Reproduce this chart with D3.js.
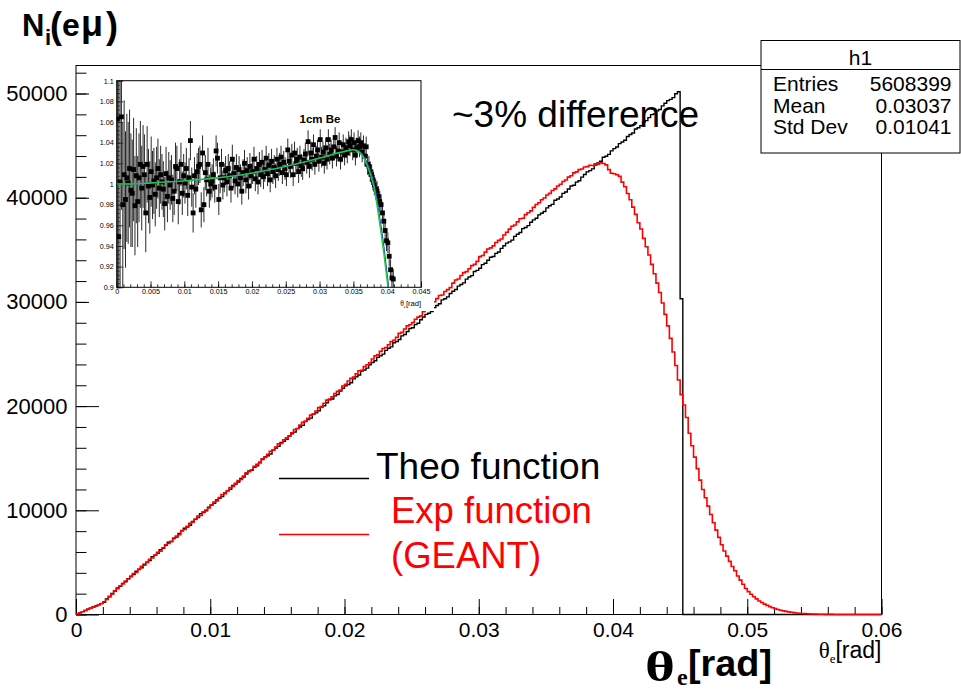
<!DOCTYPE html>
<html>
<head>
<meta charset="utf-8">
<script src="https://cdn.jsdelivr.net/npm/d3@7"></script>
<style>
body { margin: 0; background: #fff; }
svg { display: block; font-family: "Liberation Sans", Arial, Helvetica, sans-serif; }
</style>
</head>
<body>
<div id="chart"></div>
<script>
// histogram bins: 0.0002 rad wide, 300 bins from 0 to 0.06
var binWidth = 0.0002;

// Theo function (black)
var theo = [
  60, 160, 280, 380, 500, 600, 720, 820, 940, 1040,
  1180, 1490, 1700, 2010, 2230, 2540, 2700, 2990, 3150, 3440,
  3670, 3828, 4156, 4314, 4472, 4830, 5028, 5166, 5554, 5672,
  5870, 6218, 6356, 6644, 6932, 7000, 7298, 7426, 7774, 8032,
  8280, 8398, 8566, 8934, 9132, 9300, 9678, 9786, 9964, 10292,
  10510, 10668, 10996, 11154, 11312, 11670, 11868, 12006, 12394, 12512,
  12710, 13058, 13196, 13484, 13772, 13840, 14138, 14266, 14614, 14872,
  15120, 15238, 15406, 15774, 15972, 16140, 16518, 16626, 16804, 17132,
  17350, 17508, 17836, 17994, 18152, 18510, 18708, 18846, 19234, 19352,
  19550, 19898, 20036, 20324, 20612, 20680, 20978, 21106, 21454, 21712,
  21960, 22078, 22246, 22614, 22812, 22980, 23358, 23466, 23644, 23972,
  24190, 24348, 24676, 24834, 24992, 25350, 25548, 25686, 26074, 26192,
  26390, 26738, 26876, 27164, 27452, 27520, 27818, 27946, 28294, 28552,
  28800, 28918, 29086, 29454, 29652, 29820, 30198, 30306, 30484, 30812,
  31030, 31188, 31516, 31674, 31832, 32190, 32388, 32526, 32914, 33032,
  33230, 33578, 33716, 34004, 34292, 34360, 34658, 34786, 35134, 35392,
  35640, 35758, 35926, 36294, 36492, 36660, 37038, 37146, 37324, 37652,
  37870, 38028, 38356, 38514, 38672, 39030, 39228, 39366, 39754, 39872,
  40070, 40418, 40556, 40844, 41132, 41200, 41498, 41626, 41974, 42232,
  42480, 42598, 42766, 43134, 43332, 43500, 43878, 43986, 44164, 44492,
  44710, 44868, 45196, 45354, 45512, 45870, 46068, 46206, 46594, 46712,
  46910, 47258, 47396, 47684, 47972, 48040, 48338, 48466, 48814, 49072,
  49320, 49438, 49606, 49974, 50172, 30300, 0, 0, 0, 0,
  0, 0, 0, 0, 0, 0, 0, 0, 0, 0,
  0, 0, 0, 0, 0, 0, 0, 0, 0, 0,
  0, 0, 0, 0, 0, 0, 0, 0, 0, 0,
  0, 0, 0, 0, 0, 0, 0, 0, 0, 0,
  0, 0, 0, 0, 0, 0, 0, 0, 0, 0,
  0, 0, 0, 0, 0, 0, 0, 0, 0, 0,
  0, 0, 0, 0, 0, 0, 0, 0, 0, 0
];

// Exp function (GEANT), red
var geant = [
  50, 170, 270, 390, 490, 610, 710, 830, 930, 1060,
  1220, 1440, 1740, 1960, 2270, 2480, 2750, 2930, 3210, 3400,
  3620, 3928, 4026, 4354, 4632, 4730, 4998, 5306, 5424, 5712,
  5977, 6075, 6403, 6701, 6809, 7007, 7335, 7533, 7661, 8050,
  8158, 8466, 8744, 8862, 9160, 9458, 9506, 9854, 10032, 10220,
  10494, 10802, 10900, 11228, 11506, 11604, 11872, 12180, 12298, 12586,
  12865, 12963, 13291, 13589, 13697, 13895, 14223, 14421, 14549, 14937,
  15075, 15383, 15661, 15779, 16077, 16375, 16423, 16771, 16949, 17137,
  17445, 17753, 17851, 18179, 18457, 18555, 18823, 19131, 19249, 19537,
  19855, 19953, 20281, 20579, 20687, 20885, 21213, 21411, 21539, 21927,
  22095, 22403, 22681, 22799, 23097, 23395, 23443, 23791, 23969, 24157,
  24515, 24823, 24921, 25249, 25527, 25625, 25893, 26201, 26319, 26607,
  26980, 27078, 27406, 27704, 27812, 28010, 28338, 28536, 28664, 29052,
  29310, 29618, 29896, 30014, 30312, 30610, 30658, 31006, 31184, 31372,
  31800, 32108, 32206, 32534, 32812, 32910, 33178, 33486, 33604, 33892,
  34350, 34448, 34776, 35074, 35182, 35380, 35708, 35906, 36034, 36422,
  36680, 36988, 37266, 37384, 37682, 37980, 38028, 38376, 38554, 38742,
  39070, 39350, 39520, 39810, 39980, 40260, 40420, 40700, 40850, 41130,
  41290, 41560, 41700, 41980, 42110, 42380, 42480, 42700, 42760, 42950,
  42980, 43120, 43090, 43250, 43220, 43340, 43290, 43150, 42700, 42350,
  42300, 42200, 42050, 41500, 41050, 40400, 39800, 39100, 38400, 37600,
  37000, 36100, 35300, 34500, 33600, 32700, 31800, 30900, 29900, 28800,
  27700, 26500, 25200, 23900, 22500, 21100, 20100, 18900, 17400, 16200,
  15100, 14000, 12900, 12000, 11200, 10400, 9600, 8800, 8100, 7400,
  6700, 6100, 5600, 5100, 4600, 4200, 3700, 3300, 2900, 2500,
  2200, 1950, 1700, 1500, 1300, 1150, 1000, 880, 760, 650,
  560, 480, 410, 350, 300, 250, 210, 180, 150, 120,
  100, 80, 65, 55, 45, 35, 28, 22, 17, 13,
  10, 8, 6, 5, 4, 3, 2, 2, 1, 1,
  1, 1, 0, 0, 0, 0, 0, 0, 0, 0
];

// inset: ratio per bin (same 0.0002 binning), and its error in units of 0.001
var ratio = [
  1.063, 0.949, 1.002, 1.065, 0.980, 1.009, 0.985, 1.006, 1.001, 1.015,
  0.994, 0.991, 1.014, 0.979, 1.008, 0.983, 1.006, 1.019, 0.996, 1.017,
  1.009, 0.972, 1.019, 0.998, 0.987, 1.012, 0.999, 1.003, 0.990, 1.006,
  1.015, 0.996, 1.009, 1.002, 0.995, 0.981, 1.010, 0.988, 1.006, 0.999,
  1.004, 0.986, 0.993, 1.017, 1.015, 0.983, 1.002, 1.019, 0.991, 1.008,
  1.001, 1.015, 0.989, 1.006, 1.042, 0.997, 0.972, 1.008, 0.995, 1.012,
  1.017, 1.019, 0.975, 1.030, 0.980, 1.011, 1.004, 1.019, 0.993, 1.000,
  1.003, 1.009, 0.997, 1.032, 1.025, 0.985, 1.006, 1.019, 0.999, 1.006,
  1.013, 1.002, 1.015, 1.008, 0.996, 1.024, 1.010, 1.003, 1.016, 1.000,
  1.014, 1.006, 0.993, 1.011, 1.020, 1.004, 1.013, 0.998, 1.017, 1.008,
  1.012, 1.024, 1.005, 1.015, 1.002, 1.019, 1.009, 1.021, 1.007, 1.014,
  1.025, 1.010, 1.018, 1.004, 1.022, 1.012, 1.016, 1.008, 1.024, 1.014,
  1.019, 1.026, 1.011, 1.021, 1.015, 1.009, 1.033, 1.022, 1.017, 1.028,
  1.009, 1.030, 1.020, 1.024, 1.012, 1.026, 1.018, 1.015, 1.023, 1.029,
  1.021, 1.041, 1.017, 1.030, 1.024, 1.038, 1.019, 1.027, 1.033, 1.022,
  1.043, 1.026, 1.031, 1.020, 1.035, 1.024, 1.043, 1.029, 1.033, 1.025,
  1.036, 1.045, 1.027, 1.032, 1.040, 1.024, 1.031, 1.038, 1.028, 1.035,
  1.030, 1.041, 1.037, 1.043, 1.033, 1.040, 1.028, 1.035, 1.042, 1.036,
  1.040, 1.031, 1.037, 1.027, 1.036, 1.019, 1.017, 1.012, 1.009, 1.004,
  0.999, 0.995, 0.993, 0.988, 0.983, 0.980, 0.972, 0.964, 0.955, 0.945,
  0.943, 0.930, 0.917, 0.909, 0.908
];
var ratioErr = [
  200, 150, 110, 90, 80, 72, 66, 62, 59, 57,
  55, 52, 50, 48, 46, 44, 43, 42, 41, 40,
  39, 38, 37, 36, 35, 34, 33, 32, 31, 30,
  29, 28, 28, 27, 27, 26, 26, 25, 25, 24,
  24, 23, 23, 23, 22, 22, 22, 21, 21, 21,
  20, 20, 20, 19, 19, 19, 19, 18, 18, 18,
  18, 18, 17, 17, 17, 17, 16, 16, 16, 16,
  16, 16, 15, 15, 15, 15, 15, 15, 14, 14,
  14, 14, 14, 14, 14, 14, 14, 13, 13, 13,
  13, 13, 13, 13, 13, 13, 13, 13, 13, 12,
  12, 12, 12, 12, 12, 12, 12, 12, 12, 12,
  12, 12, 12, 12, 12, 12, 12, 12, 11, 11,
  11, 11, 11, 11, 11, 11, 11, 11, 11, 11,
  11, 11, 11, 11, 11, 11, 11, 11, 11, 11,
  11, 11, 11, 11, 11, 10, 10, 10, 10, 10,
  10, 10, 10, 10, 10, 10, 10, 10, 10, 10,
  10, 10, 10, 10, 10, 10, 10, 10, 10, 10,
  10, 10, 10, 10, 10, 10, 10, 10, 10, 10,
  10, 10, 10, 10, 10, 10, 10, 10, 10, 10,
  10, 10, 10, 10, 10, 10, 10, 10, 10, 10,
  10, 10, 10, 10, 10
];

// inset fit curves
var fitTheta = [0, 0.002, 0.005, 0.01, 0.015, 0.02, 0.025, 0.03, 0.033, 0.034, 0.035, 0.036, 0.037, 0.038, 0.039, 0.0395, 0.04, 0.0402];
var fitGreen = [1.000, 1.000, 1.001, 1.003, 1.006, 1.0105, 1.017, 1.025, 1.0305, 1.032, 1.0332, 1.030, 1.0187, 0.998, 0.957, 0.933, 0.906, 0.895];
var fitBlue  = [1.000, 1.000, 1.001, 1.003, 1.006, 1.0105, 1.017, 1.025, 1.0305, 1.032, 1.0334, 1.031, 1.021, 1.002, 0.963, 0.940, 0.912, 0.901];

// axis ticks
var xTicks = [0, 0.01, 0.02, 0.03, 0.04, 0.05, 0.06];
var xTickLabels = ["0", "0.01", "0.02", "0.03", "0.04", "0.05", "0.06"];
var yTicks = [0, 10000, 20000, 30000, 40000, 50000];
var yTickLabels = ["0", "10000", "20000", "30000", "40000", "50000"];
var insetXTicks = [0, 0.005, 0.01, 0.015, 0.02, 0.025, 0.03, 0.035, 0.04, 0.045];
var insetXLabels = ["0", "0.005", "0.01", "0.015", "0.02", "0.025", "0.03", "0.035", "0.04", "0.045"];
var insetYTicks = [0.9, 0.92, 0.94, 0.96, 0.98, 1, 1.02, 1.04, 1.06, 1.08, 1.1];
var insetYLabels = ["0.9", "0.92", "0.94", "0.96", "0.98", "1", "1.02", "1.04", "1.06", "1.08", "1.1"];

var statsRows = [["Entries", "5608399"], ["Mean", "0.03037"], ["Std Dev", "0.01041"]];

var W = 961, H = 691;
var frame = {left: 76, right: 881.5, top: 65.5, bottom: 614.5};
var yMax = 52690;

var x = d3.scaleLinear().domain([0, 0.06]).range([frame.left, frame.right]);
var y = d3.scaleLinear().domain([0, yMax]).range([frame.bottom, frame.top]);

var svg = d3.select("#chart").append("svg")
	.attr("width", W)
	.attr("height", H);

// x axis
svg.append("g")
	.attr("transform", "translate(0," + frame.bottom + ")")
	.call(d3.axisBottom(x).tickValues(d3.range(0, 0.0601, 0.002)).tickSize(-7.5).tickFormat(""));
var xAxis = svg.append("g")
	.attr("transform", "translate(0," + frame.bottom + ")")
	.call(d3.axisBottom(x).tickValues(xTicks).tickSize(-15.5).tickPadding(7.5)
		.tickFormat(function(d, i){ return xTickLabels[i]; }));
xAxis.selectAll("text").attr("font-size", 21).attr("font-family", "Liberation Sans").attr("fill", "#000");

// y axis
svg.append("g")
	.attr("transform", "translate(" + frame.left + ",0)")
	.call(d3.axisLeft(y).tickValues(d3.range(0, 52001, 2000)).tickSize(-10.5).tickFormat(""));
var yAxis = svg.append("g")
	.attr("transform", "translate(" + frame.left + ",0)")
	.call(d3.axisLeft(y).tickValues(yTicks).tickSize(-23).tickPadding(8.5)
		.tickFormat(function(d, i){ return yTickLabels[i]; }));
yAxis.selectAll("text").attr("font-size", 22).attr("font-family", "Liberation Sans").attr("fill", "#000");

svg.selectAll(".domain").remove();
svg.selectAll(".tick line").attr("stroke", "#000");

// frame
svg.append("rect")
	.attr("x", frame.left).attr("y", frame.top)
	.attr("width", frame.right - frame.left).attr("height", frame.bottom - frame.top)
	.attr("fill", "none").attr("stroke", "#000").attr("stroke-width", 1);

// histograms
function steps(vals){
	var pts = vals.map(function(v, i){ return [i * binWidth, v]; });
	pts.push([vals.length * binWidth, vals[vals.length - 1]]);
	return pts;
}
var hist = d3.line()
	.x(function(d){ return x(d[0]); })
	.y(function(d){ return y(d[1]); })
	.curve(d3.curveStepAfter);

svg.append("path")
	.attr("d", hist(steps(theo)))
	.attr("fill", "none").attr("stroke", "#000").attr("stroke-width", 1.4);
svg.append("path")
	.attr("d", hist(steps(geant)))
	.attr("fill", "none").attr("stroke", "#ff0000").attr("stroke-width", 1.6);

// ---- inset pad ----
var pad = {left: 89, right: 434, top: 68, bottom: 311};
var ifr = {left: 116.7, right: 421, top: 80.7, bottom: 287.3};
svg.append("rect")
	.attr("x", pad.left).attr("y", pad.top)
	.attr("width", pad.right - pad.left).attr("height", pad.bottom - pad.top)
	.attr("fill", "#fff");

var ix = d3.scaleLinear().domain([0, 0.045]).range([ifr.left, ifr.right]);
var iy = d3.scaleLinear().domain([0.9, 1.1]).range([ifr.bottom, ifr.top]);

var inset = svg.append("g");
inset.append("clipPath").attr("id", "insetClip")
	.append("rect")
	.attr("x", ifr.left).attr("y", ifr.top)
	.attr("width", ifr.right - ifr.left).attr("height", ifr.bottom - ifr.top);

inset.append("g")
	.attr("transform", "translate(0," + ifr.bottom + ")")
	.call(d3.axisBottom(ix).tickValues(d3.range(0, 0.0451, 0.001)).tickSize(-3).tickFormat(""));
inset.append("g")
	.attr("transform", "translate(0," + ifr.bottom + ")")
	.call(d3.axisBottom(ix).tickValues(insetXTicks).tickSize(-6).tickPadding(1.5)
		.tickFormat(function(d, i){ return insetXLabels[i]; }));
inset.append("g")
	.attr("transform", "translate(" + ifr.left + ",0)")
	.call(d3.axisLeft(iy).tickValues(d3.range(0.9, 1.1001, 0.004)).tickSize(-3).tickFormat(""));
inset.append("g")
	.attr("transform", "translate(" + ifr.left + ",0)")
	.call(d3.axisLeft(iy).tickValues(insetYTicks).tickSize(-6.5).tickPadding(3)
		.tickFormat(function(d, i){ return insetYLabels[i]; }));
inset.selectAll("text").attr("font-size", 7.2).attr("font-family", "Liberation Sans").attr("fill", "#000");
inset.selectAll(".domain").remove();
inset.selectAll(".tick line").attr("stroke", "#000").attr("stroke-width", 0.8);

var pts = ratio.map(function(r, i){ return {t: (i + 0.5) * binWidth, r: r, e: ratioErr[i] / 1000}; });
var plot = inset.append("g").attr("clip-path", "url(#insetClip)");
plot.selectAll(".err")
	.data(pts)
	.enter().append("line")
		.attr("class", "err")
		.attr("x1", function(d){ return ix(d.t); })
		.attr("x2", function(d){ return ix(d.t); })
		.attr("y1", function(d){ return iy(d.r - d.e); })
		.attr("y2", function(d){ return iy(d.r + d.e); })
		.attr("stroke", "#2a2a2a").attr("stroke-width", 1);
plot.selectAll(".pt")
	.data(pts.filter(function(d){ return d.r >= 0.9 && d.r <= 1.1; }))
	.enter().append("rect")
		.attr("class", "pt")
		.attr("x", function(d){ return ix(d.t) - 2.4; })
		.attr("y", function(d){ return iy(d.r) - 2.4; })
		.attr("width", 4.8).attr("height", 4.8)
		.attr("fill", "#000");

var fitLine = d3.line()
	.x(function(d){ return ix(d[0]); })
	.y(function(d){ return iy(d[1]); })
	.curve(d3.curveMonotoneX);
plot.append("path")
	.attr("d", fitLine(fitTheta.map(function(t, i){ return [t, fitBlue[i]]; })))
	.attr("fill", "none").attr("stroke", "#1f4fd8").attr("stroke-width", 1.2);
plot.append("path")
	.attr("d", fitLine(fitTheta.map(function(t, i){ return [t, fitGreen[i]]; })))
	.attr("fill", "none").attr("stroke", "#22c93a").attr("stroke-width", 1.4);

inset.append("rect")
	.attr("x", ifr.left).attr("y", ifr.top)
	.attr("width", ifr.right - ifr.left).attr("height", ifr.bottom - ifr.top)
	.attr("fill", "none").attr("stroke", "#000").attr("stroke-width", 1);

inset.append("text")
	.attr("x", 320).attr("y", 123)
	.attr("text-anchor", "middle")
	.attr("font-size", 11.5).attr("font-weight", "bold")
	.text("1cm Be");

var it = inset.append("text")
	.attr("x", ifr.right).attr("y", 306)
	.attr("text-anchor", "end")
	.attr("font-size", 7.5);
it.append("tspan").attr("font-family", "Liberation Serif").text("θ");
it.append("tspan").attr("font-family", "Liberation Serif").attr("font-size", 5).attr("dy", 1.5).text("e");
it.append("tspan").attr("dy", -1.5).text("[rad]");

// ---- y title: N_i(e mu) ----
var ytParts = [
	{s: "N", x: 22, y: 36, size: 31},
	{s: "i", x: 45, y: 45, size: 22},
	{s: "(", x: 50, y: 38, size: 36},
	{s: "e", x: 62, y: 36, size: 32},
	{s: "μ", x: 81, y: 36, size: 36},
	{s: ")", x: 106, y: 38, size: 36}
];
ytParts.forEach(function(p){
	svg.append("text")
		.attr("x", p.x).attr("y", p.y)
		.attr("font-size", p.size).attr("font-weight", "bold")
		.text(p.s);
});

// ---- x title: theta_e[rad] ----
svg.append("text")
	.attr("x", 645).attr("y", 681)
	.attr("font-family", "Liberation Serif").attr("font-weight", "bold")
	.attr("font-size", 42)
	.attr("textLength", 30).attr("lengthAdjust", "spacingAndGlyphs")
	.text("θ");
svg.append("text")
	.attr("x", 677).attr("y", 685)
	.attr("font-family", "Liberation Serif").attr("font-weight", "bold")
	.attr("font-size", 24)
	.text("e");
svg.append("text")
	.attr("x", 688).attr("y", 676)
	.attr("font-weight", "bold")
	.attr("font-size", 37.8)
	.text("[rad]");

var xs = svg.append("text")
	.attr("x", 881.5).attr("y", 658)
	.attr("text-anchor", "end")
	.attr("font-size", 23);
xs.append("tspan").attr("font-family", "Liberation Serif").text("θ");
xs.append("tspan").attr("font-family", "Liberation Serif").attr("font-size", 13).attr("dy", 5).text("e");
xs.append("tspan").attr("dy", -5).text("[rad]");

svg.append("text")
	.attr("x", 452).attr("y", 127)
	.attr("font-size", 37)
	.text("~3% difference");

// ---- legend ----
var legend = [
	{color: "#000", y: 478.5, lines: ["Theo function"], tx: 376, ty: 479, size: 37},
	{color: "#ff0000", y: 534.5, lines: ["Exp function", "(GEANT)"], tx: 391, ty: 523, size: 36.5}
];
legend.forEach(function(l){
	svg.append("line")
		.attr("x1", 279).attr("x2", 369)
		.attr("y1", l.y).attr("y2", l.y)
		.attr("stroke", l.color).attr("stroke-width", 1.6);
	l.lines.forEach(function(s, k){
		svg.append("text")
			.attr("x", l.tx).attr("y", l.ty + k * 45)
			.attr("font-size", l.size).attr("fill", l.color)
			.text(s);
	});
});

// ---- stats box ----
var sb = {left: 761, right: 960, top: 40.5, bottom: 153};
svg.append("rect")
	.attr("x", sb.left).attr("y", sb.top)
	.attr("width", sb.right - sb.left).attr("height", sb.bottom - sb.top)
	.attr("fill", "#fff").attr("stroke", "#000").attr("stroke-width", 1);
svg.append("line")
	.attr("x1", sb.left).attr("x2", sb.right)
	.attr("y1", 69.5).attr("y2", 69.5)
	.attr("stroke", "#000");
svg.append("text")
	.attr("x", (sb.left + sb.right) / 2).attr("y", 64.5)
	.attr("text-anchor", "middle").attr("font-size", 21)
	.text("h1");
statsRows.forEach(function(r, i){
	svg.append("text").attr("x", 773).attr("y", 91 + i * 21.7)
		.attr("font-size", 21).text(r[0]);
	svg.append("text").attr("x", 951.5).attr("y", 91 + i * 21.7)
		.attr("font-size", 21).attr("text-anchor", "end").text(r[1]);
});
</script>
</body>
</html>
